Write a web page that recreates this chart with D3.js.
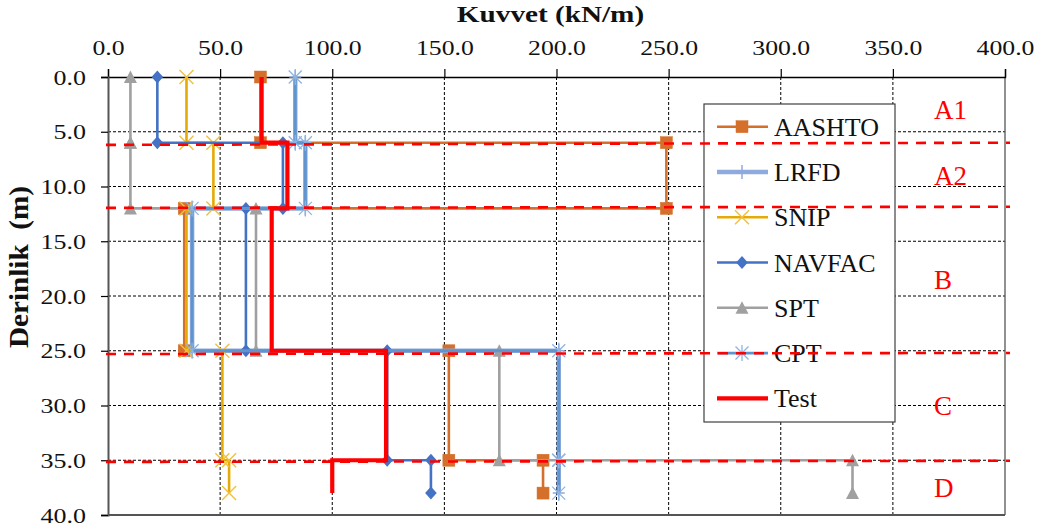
<!DOCTYPE html>
<html>
<head>
<meta charset="utf-8">
<script src="https://cdn.jsdelivr.net/npm/d3@7"></script>
<style>
  body { margin: 0; background: #fff; }
  svg { display: block; }
  svg text { font-family: "Liberation Serif", "Times New Roman", "DejaVu Serif", serif !important; }
</style>
</head>
<body>
<svg id="chart" width="1041" height="532"></svg>
<script>
// Layer boundaries (m) used by every method's step profile
const layerDepths = [0, 6, 12, 25, 35, 38];

// Unit skin resistance per layer (kN/m) for each method
const aashto = [68, 249, 34, 152, 194];
const lrfd   = [83.5, 88, 37.5, 201, 201];
const snip   = [35, 47, 35, 51, 54];
const navfac = [22, 78, 61.5, 124.5, 144];
const spt    = [10, 10, 66, 174.5, 332];
const cpt    = [83.5, 88, 37.5, 201, 201];
const test   = [68.5, 80, 73, 124, 100];

const seriesNames = ["AASHTO", "LRFD", "SNIP", "NAVFAC", "SPT", "CPT", "Test"];

// Soil zones and their depth limits (m)
const zoneNames  = ["A1", "A2", "B", "C", "D"];
const zoneLimits = [0, 6, 12, 25, 35, 40];
// Zone boundary lines: depth at the left and right ends
const boundaryLeft  = [6.2, 11.95, 25.3, 35.15];
const boundaryRight = [6.0, 11.85, 25.2, 35.05];

// Axis ticks
const xTicks = [0, 50, 100, 150, 200, 250, 300, 350, 400];
const yTicks = [0, 5, 10, 15, 20, 25, 30, 35, 40];

const SERIF = "'Liberation Serif', 'Times New Roman', 'DejaVu Serif', serif";

const svg = d3.select("#chart");
const x = d3.scaleLinear().domain([0, 400]).range([108, 1005]);
const y = d3.scaleLinear().domain([0, 40]).range([77, 515]);

// ---- marker shapes ----
const markers = {
  square: (g, c) => g.append("rect").attr("x", -6).attr("y", -6).attr("width", 12).attr("height", 12)
      .attr("fill", c.mark).attr("stroke", c.mark).attr("stroke-width", 0.5),
  plus: (g, c) => g.append("path").attr("d", "M-6,0H6M0,-7V7")
      .attr("stroke", c.mark).attr("stroke-width", 1.5).attr("fill", "none"),
  cross: (g, c) => g.append("path").attr("d", "M-7,-7L7,7M-7,7L7,-7")
      .attr("stroke", c.mark).attr("stroke-width", 1.4).attr("fill", "none"),
  diamond: (g, c) => g.append("path").attr("d", "M0,-6.5L5.8,0L0,6.5L-5.8,0Z")
      .attr("fill", c.mark),
  triangle: (g, c) => g.append("path").attr("d", "M0,-6.5L6.5,6L-6.5,6Z")
      .attr("fill", c.mark),
  star: (g, c) => g.append("path").attr("d", "M-6.5,-6.5L6.5,6.5M-6.5,6.5L6.5,-6.5M0,-8V8")
      .attr("stroke", c.mark).attr("stroke-width", 1.3).attr("fill", "none"),
  none: () => {}
};

const series = [
  { name: seriesNames[0], values: aashto, line: "#D4702B", mark: "#D4702B", width: 2.6, marker: "square" },
  { name: seriesNames[1], values: lrfd,   line: "#8FAADC", mark: "#8FAADC", width: 4.5, marker: "plus" },
  { name: seriesNames[2], values: snip,   line: "#E6AA06", mark: "#F0C040", width: 2.6, marker: "cross" },
  { name: seriesNames[3], values: navfac, line: "#4472C4", mark: "#4472C4", width: 2.6, marker: "diamond" },
  { name: seriesNames[4], values: spt,    line: "#A0A0A0", mark: "#A0A0A0", width: 2.6, marker: "triangle" },
  { name: seriesNames[5], values: cpt,    line: "#5E95CF", mark: "#8DB4E2", width: 2.8, marker: "star" },
  { name: seriesNames[6], values: test,   line: "#FF0000", mark: "#FF0000", width: 4.2, marker: "none" }
];

// Step profile points: each layer value held from its top to its bottom depth
function profile(values) {
  const pts = [];
  values.forEach((v, i) => {
    pts.push([v, layerDepths[i]]);
    pts.push([v, layerDepths[i + 1]]);
  });
  return pts;
}

// ---- gridlines ----
const grid = svg.append("g");
grid.selectAll("line.vg").data(xTicks.filter(t => t > 0 && t < 400)).join("line")
  .attr("x1", d => x(d)).attr("x2", d => x(d)).attr("y1", y(0)).attr("y2", y(40))
  .attr("stroke", "#000").attr("stroke-width", 1).attr("stroke-dasharray", "3,2");
grid.selectAll("line.hg").data(yTicks.filter(t => t > 0 && t < 40)).join("line")
  .attr("y1", d => y(d)).attr("y2", d => y(d)).attr("x1", x(0)).attr("x2", x(400))
  .attr("stroke", "#000").attr("stroke-width", 1).attr("stroke-dasharray", "3,2");

// plot frame (right and bottom)
svg.append("line").attr("x1", x(400)).attr("x2", x(400)).attr("y1", y(0)).attr("y2", y(40))
  .attr("stroke", "#555").attr("stroke-width", 1.3);
svg.append("line").attr("x1", x(0)).attr("x2", x(400)).attr("y1", y(40)).attr("y2", y(40))
  .attr("stroke", "#555").attr("stroke-width", 2);

// ---- axes ----
const xAxis = svg.append("g").attr("transform", `translate(0,${y(0)})`)
  .call(d3.axisTop(x).tickValues(xTicks).tickSize(8).tickPadding(14).tickFormat(d3.format(".1f")));
xAxis.attr("font-family", null).attr("font-size", null);
xAxis.select(".domain").attr("stroke", "#000").attr("stroke-width", 1.4);
xAxis.selectAll(".tick line").attr("stroke", "#000").attr("stroke-width", 1.2);
xAxis.selectAll(".tick text")
  .attr("y", null).attr("dy", null)
  .attr("transform", "translate(0,-22) scale(1.17,1)")
  .attr("fill", "#111")
  .style("font-family", SERIF).style("font-size", "22px");

const yAxis = svg.append("g").attr("transform", `translate(${x(0)},0)`)
  .call(d3.axisLeft(y).tickValues(yTicks).tickSize(7).tickPadding(15).tickFormat(d3.format(".1f")));
yAxis.attr("font-family", null).attr("font-size", null);
yAxis.select(".domain").attr("stroke", "#555").attr("stroke-width", 2);
yAxis.selectAll(".tick line").attr("stroke", "#000").attr("stroke-width", 1.2);
yAxis.selectAll(".tick text")
  .attr("x", null)
  .attr("transform", "translate(-22,0) scale(1.18,1)")
  .attr("fill", "#111")
  .style("font-family", SERIF).style("font-size", "22px");

// axis titles
svg.append("text").attr("transform", `translate(${x(200) - 6},22) scale(1.27,1)`)
  .attr("text-anchor", "middle")
  .style("font-family", SERIF).style("font-size", "23px").style("font-weight", "bold")
  .attr("fill", "#111").text("Kuvvet (kN/m)");
svg.append("text").attr("transform", "translate(28,267) rotate(-90) scale(1.08,1)")
  .attr("text-anchor", "middle")
  .style("font-family", SERIF).style("font-size", "27px").style("font-weight", "bold")
  .attr("fill", "#111").style("white-space", "pre").text("Derinlik  (m)");

// ---- series ----
const line = d3.line().x(d => x(d[0])).y(d => y(d[1]));
series.forEach(s => {
  const pts = profile(s.values);
  const g = svg.append("g");
  g.append("path").attr("d", line(pts)).attr("fill", "none")
    .attr("stroke", s.line).attr("stroke-width", s.width).attr("stroke-linejoin", "miter");
  pts.forEach(p => {
    const m = g.append("g").attr("transform", `translate(${x(p[0])},${y(p[1])})`);
    markers[s.marker](m, s);
  });
});

// ---- legend ----
const legend = svg.append("g");
legend.append("rect").attr("x", 704).attr("y", 104).attr("width", 191).attr("height", 318)
  .attr("fill", "#fff").attr("stroke", "#404040").attr("stroke-width", 1.2);
series.forEach((s, i) => {
  const cy = 126.7 + i * 45.27;
  legend.append("line").attr("x1", 717).attr("x2", 768).attr("y1", cy).attr("y2", cy)
    .attr("stroke", s.line).attr("stroke-width", s.width);
  const m = legend.append("g").attr("transform", `translate(742,${cy})`);
  markers[s.marker](m, s);
  legend.append("text").attr("x", 774).attr("y", cy + 9)
    .style("font-family", SERIF).style("font-size", "26px")
    .attr("fill", "#111").text(s.name);
});

// ---- zone boundaries and names ----
boundaryLeft.forEach((d, i) => {
  svg.append("line").attr("x1", x(0) - 2).attr("x2", x(400) + 5)
    .attr("y1", y(d)).attr("y2", y(boundaryRight[i]))
    .attr("stroke", "#FF0000").attr("stroke-width", 2.6).attr("stroke-dasharray", "10,8");
});
zoneNames.forEach((n, i) => {
  const mid = (zoneLimits[i] + zoneLimits[i + 1]) / 2;
  svg.append("text").attr("x", 934).attr("y", y(mid) + 9)
    .style("font-family", SERIF).style("font-size", "27px")
    .attr("fill", "#FF0000").text(n);
});
</script>
</body>
</html>
